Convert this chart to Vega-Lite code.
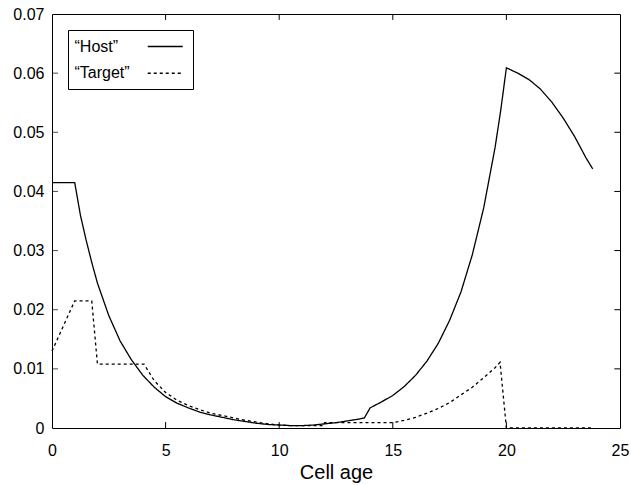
{
  "$schema": "https://vega.github.io/schema/vega-lite/v6.json",
  "width": 568,
  "height": 414,
  "autosize": {"type": "none"},
  "padding": {"left": 52, "top": 14, "right": 11, "bottom": 57},
  "background": "white",
  "config": {
    "view": {"stroke": "black", "strokeWidth": 1},
    "font": "Liberation Sans",
    "axis": {
      "grid": false,
      "domain": false,
      "ticks": false,
      "tickSize": 0,
      "labelFlush": false,
      "labelColor": "black",
      "labelFontSize": 16,
      "labelFont": "Liberation Sans",
      "titleFont": "Liberation Sans",
      "titleFontSize": 20,
      "titleFontWeight": "normal",
      "titleColor": "black"
    }
  },
  "datasets": {
    "curves": [
      {"series": "“Host”", "age": 0, "value": 0.0415},
      {"series": "“Host”", "age": 1, "value": 0.0415},
      {"series": "“Host”", "age": 1.25, "value": 0.0360},
      {"series": "“Host”", "age": 1.5, "value": 0.0318},
      {"series": "“Host”", "age": 1.75, "value": 0.0280},
      {"series": "“Host”", "age": 2, "value": 0.0245},
      {"series": "“Host”", "age": 2.5, "value": 0.0190},
      {"series": "“Host”", "age": 3, "value": 0.0147},
      {"series": "“Host”", "age": 3.5, "value": 0.0115},
      {"series": "“Host”", "age": 4, "value": 0.0089},
      {"series": "“Host”", "age": 4.5, "value": 0.0069},
      {"series": "“Host”", "age": 5, "value": 0.0053},
      {"series": "“Host”", "age": 5.5, "value": 0.0042},
      {"series": "“Host”", "age": 6, "value": 0.0034},
      {"series": "“Host”", "age": 6.5, "value": 0.0027},
      {"series": "“Host”", "age": 7, "value": 0.0022},
      {"series": "“Host”", "age": 7.5, "value": 0.0018},
      {"series": "“Host”", "age": 8, "value": 0.0014},
      {"series": "“Host”", "age": 8.5, "value": 0.0011},
      {"series": "“Host”", "age": 9, "value": 0.0008},
      {"series": "“Host”", "age": 9.5, "value": 0.0006},
      {"series": "“Host”", "age": 10, "value": 0.0005},
      {"series": "“Host”", "age": 10.5, "value": 0.0004},
      {"series": "“Host”", "age": 11, "value": 0.0004},
      {"series": "“Host”", "age": 11.5, "value": 0.0005},
      {"series": "“Host”", "age": 12, "value": 0.0007},
      {"series": "“Host”", "age": 12.5, "value": 0.0009},
      {"series": "“Host”", "age": 13, "value": 0.0012},
      {"series": "“Host”", "age": 13.5, "value": 0.0015},
      {"series": "“Host”", "age": 13.75, "value": 0.0017},
      {"series": "“Host”", "age": 14, "value": 0.0034},
      {"series": "“Host”", "age": 14.5, "value": 0.0044},
      {"series": "“Host”", "age": 15, "value": 0.0055},
      {"series": "“Host”", "age": 15.5, "value": 0.0070},
      {"series": "“Host”", "age": 16, "value": 0.0089},
      {"series": "“Host”", "age": 16.5, "value": 0.0113},
      {"series": "“Host”", "age": 17, "value": 0.0143},
      {"series": "“Host”", "age": 17.5, "value": 0.0182},
      {"series": "“Host”", "age": 18, "value": 0.0230},
      {"series": "“Host”", "age": 18.5, "value": 0.0293},
      {"series": "“Host”", "age": 19, "value": 0.0372},
      {"series": "“Host”", "age": 19.5, "value": 0.0474},
      {"series": "“Host”", "age": 19.75, "value": 0.0537},
      {"series": "“Host”", "age": 20, "value": 0.0609},
      {"series": "“Host”", "age": 20.5, "value": 0.0600},
      {"series": "“Host”", "age": 21, "value": 0.0589},
      {"series": "“Host”", "age": 21.5, "value": 0.0573},
      {"series": "“Host”", "age": 22, "value": 0.0551},
      {"series": "“Host”", "age": 22.5, "value": 0.0524},
      {"series": "“Host”", "age": 23, "value": 0.0493},
      {"series": "“Host”", "age": 23.5, "value": 0.0457},
      {"series": "“Host”", "age": 23.8, "value": 0.0438},
      {"series": "“Target”", "age": 0, "value": 0.0130},
      {"series": "“Target”", "age": 1, "value": 0.0215},
      {"series": "“Target”", "age": 1.75, "value": 0.0215},
      {"series": "“Target”", "age": 2, "value": 0.0108},
      {"series": "“Target”", "age": 4.05, "value": 0.0108},
      {"series": "“Target”", "age": 4.5, "value": 0.0080},
      {"series": "“Target”", "age": 5, "value": 0.0060},
      {"series": "“Target”", "age": 5.5, "value": 0.0047},
      {"series": "“Target”", "age": 6, "value": 0.0038},
      {"series": "“Target”", "age": 6.5, "value": 0.0031},
      {"series": "“Target”", "age": 7, "value": 0.0025},
      {"series": "“Target”", "age": 7.5, "value": 0.0021},
      {"series": "“Target”", "age": 8, "value": 0.0017},
      {"series": "“Target”", "age": 8.5, "value": 0.0013},
      {"series": "“Target”", "age": 9, "value": 0.0010},
      {"series": "“Target”", "age": 9.5, "value": 0.0007},
      {"series": "“Target”", "age": 10, "value": 0.0005},
      {"series": "“Target”", "age": 10.5, "value": 0.0004},
      {"series": "“Target”", "age": 11, "value": 0.0004},
      {"series": "“Target”", "age": 11.5, "value": 0.0004},
      {"series": "“Target”", "age": 11.95, "value": 0.0004},
      {"series": "“Target”", "age": 12, "value": 0.0009},
      {"series": "“Target”", "age": 15, "value": 0.0009},
      {"series": "“Target”", "age": 15.5, "value": 0.0013},
      {"series": "“Target”", "age": 16, "value": 0.0018},
      {"series": "“Target”", "age": 16.5, "value": 0.0025},
      {"series": "“Target”", "age": 17, "value": 0.0033},
      {"series": "“Target”", "age": 17.5, "value": 0.0043},
      {"series": "“Target”", "age": 18, "value": 0.0056},
      {"series": "“Target”", "age": 18.5, "value": 0.0069},
      {"series": "“Target”", "age": 19, "value": 0.0085},
      {"series": "“Target”", "age": 19.5, "value": 0.0102},
      {"series": "“Target”", "age": 19.72, "value": 0.0111},
      {"series": "“Target”", "age": 20, "value": 0},
      {"series": "“Target”", "age": 23.8, "value": 0}
    ],
    "xticks": [{"pos": 5}, {"pos": 10}, {"pos": 15}, {"pos": 20}],
    "yticks": [{"pos": 0.01}, {"pos": 0.02}, {"pos": 0.03}, {"pos": 0.04}, {"pos": 0.05}, {"pos": 0.06}]
  },
  "layer": [
    {
      "data": {"name": "curves"},
      "mark": {"type": "line", "color": "black", "strokeWidth": 1.3},
      "encoding": {
        "x": {
          "field": "age", "type": "quantitative",
          "scale": {"domain": [0, 25], "nice": false, "zero": false},
          "axis": {"orient": "bottom", "values": [0, 5, 10, 15, 20, 25], "title": "Cell age", "labelPadding": 14, "titlePadding": 4}
        },
        "y": {
          "field": "value", "type": "quantitative",
          "scale": {"domain": [0, 0.07], "nice": false},
          "axis": {"orient": "left", "values": [0, 0.01, 0.02, 0.03, 0.04, 0.05, 0.06, 0.07], "format": ".2~f", "title": null, "labelPadding": 8}
        },
        "strokeDash": {
          "field": "series", "type": "nominal",
          "scale": {"domain": ["“Host”", "“Target”"], "range": [[1, 0], [3, 3]]},
          "legend": {
            "orient": "none", "legendX": 16, "legendY": 16,
            "title": null,
            "symbolType": "M-2,0H2",
            "symbolSize": 306.25,
            "symbolStrokeWidth": 1.3,
            "symbolStrokeColor": "black",
            "symbolFillColor": "transparent",
            "symbolOffset": 80.75,
            "labelOffset": -100.25,
            "labelFontSize": 16,
            "labelColor": "black",
            "labelFont": "Liberation Sans",
            "rowPadding": 8.75,
            "strokeColor": "black",
            "fillColor": "white",
            "padding": 7,
            "zindex": 3
          }
        }
      }
    },
    {
      "data": {"name": "xticks"},
      "mark": {"type": "rule", "color": "black", "strokeWidth": 1},
      "encoding": {
        "x": {"field": "pos", "type": "quantitative"},
        "y": {"datum": 0, "type": "quantitative"},
        "y2": {"datum": 0.001}
      }
    },
    {
      "data": {"name": "xticks"},
      "mark": {"type": "rule", "color": "black", "strokeWidth": 1},
      "encoding": {
        "x": {"field": "pos", "type": "quantitative"},
        "y": {"datum": 0.07, "type": "quantitative"},
        "y2": {"datum": 0.069}
      }
    },
    {
      "data": {"name": "yticks"},
      "mark": {"type": "tick", "orient": "horizontal", "color": "black", "size": 6, "thickness": 1},
      "encoding": {
        "y": {"field": "pos", "type": "quantitative"},
        "x": {"datum": 0.132, "type": "quantitative"}
      }
    },
    {
      "data": {"name": "yticks"},
      "mark": {"type": "rule", "color": "black", "strokeWidth": 1},
      "encoding": {
        "y": {"field": "pos", "type": "quantitative"},
        "x": {"datum": 25, "type": "quantitative"},
        "x2": {"datum": 24.75}
      }
    }
  ]
}
